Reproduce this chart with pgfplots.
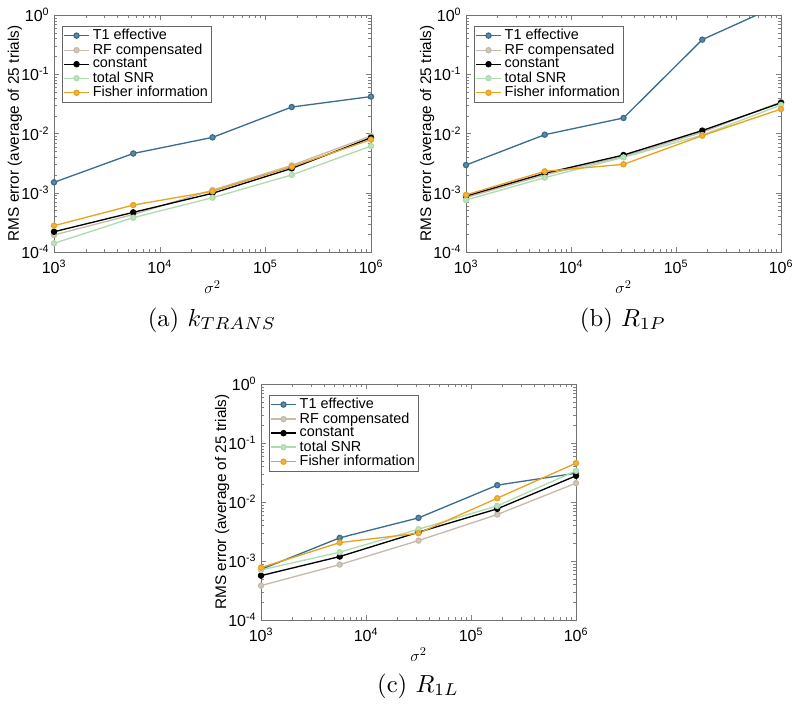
\documentclass[border=0pt]{standalone}
\usepackage{fontspec}
\usepackage{pgfplots}
\pgfplotsset{compat=1.18}
\newfontfamily\axfont{Liberation Sans}
\definecolor{cT}{HTML}{3A6E8F}
\definecolor{cR}{HTML}{C6BAAB}
\definecolor{cC}{HTML}{000000}
\definecolor{cS}{HTML}{AEDCAE}
\definecolor{cF}{HTML}{EBA21F}
\pgfplotsset{
  every axis plot/.append style={line width=1pt, mark=*, mark size=1.9pt},
  legend image code/.code={\draw[mark repeat=2,mark phase=2,#1] plot coordinates {(0cm,0cm) (0.34cm,0cm) (0.68cm,0cm)};},
}
\begin{document}
\begin{tikzpicture}
\path[use as bounding box] (0,0) rectangle (600pt,-533.25pt);
% (a)
\begin{axis}[at={(40.5pt,-11.25pt)}, anchor=north west, width=237.75pt, height=177.75pt,
    scale only axis,
    xmode=log, ymode=log,
    xmin=1e3, xmax=1e6, ymin=1e-4, ymax=1,
    xtick={1e3,1e4,1e5,1e6},
    xticklabels={10\textsuperscript{3},10\textsuperscript{4},10\textsuperscript{5},10\textsuperscript{6}},
    ytick={1e-4,1e-3,1e-2,1e-1,1},
    yticklabels={10\textsuperscript{-4},10\textsuperscript{-3},10\textsuperscript{-2},10\textsuperscript{-1},10\textsuperscript{0}},
    tick align=inside,
    axis line style={draw=black!55},
    major tick length=4pt, minor tick length=2.2pt,
    tick label style={font=\axfont\fontsize{12}{13}\selectfont},
    xticklabel style={yshift=-2.5pt},
    label style={font=\axfont\fontsize{11.5}{13}\selectfont},
    xlabel={$\sigma^2$},
    ylabel={RMS error (average of 25 trials)},
    xlabel style={font=\axfont\fontsize{13}{14}\selectfont, at={(axis description cs:0.5,-0.148)}, anchor=center},
    ylabel style={at={(axis description cs:-0.123,0.5)}, anchor=center},
    legend cell align=left,
    legend style={at={(0.025,0.955)}, anchor=north west, draw=black!60,
      font=\axfont\fontsize{10.8}{10.8}\selectfont, inner sep=0.6pt, row sep=-2.4pt}]
\addplot[color=cT, mark options={fill=cT!80}] coordinates {(1000,1.5e-3) (5623,4.6e-3) (31623,8.6e-3) (177828,2.8e-2) (1e6,4.2e-2)};
\addplot[color=cR, mark options={fill=cR!80}] coordinates {(1000,1.94e-4) (5623,4.3e-4) (31623,1.11e-3) (177828,2.9e-3) (1e6,9.1e-3)};
\addplot[color=cC, mark options={fill=cC}] coordinates {(1000,2.2e-4) (5623,4.67e-4) (31623,9.8e-4) (177828,2.58e-3) (1e6,8.5e-3)};
\addplot[color=cS, mark options={fill=cS!80}] coordinates {(1000,1.4e-4) (5623,3.8e-4) (31623,8.26e-4) (177828,2.0e-3) (1e6,6.15e-3)};
\addplot[color=cF, mark options={fill=cF!80}] coordinates {(1000,2.78e-4) (5623,6.2e-4) (31623,1.06e-3) (177828,2.75e-3) (1e6,7.9e-3)};
\legend{T1 effective,RF compensated,constant,total SNR,Fisher information}
\end{axis}
% (b)
\begin{axis}[at={(349.5pt,-11.25pt)}, anchor=north west, width=236.25pt, height=177.75pt,
    scale only axis,
    xmode=log, ymode=log,
    xmin=1e3, xmax=1e6, ymin=1e-4, ymax=1,
    xtick={1e3,1e4,1e5,1e6},
    xticklabels={10\textsuperscript{3},10\textsuperscript{4},10\textsuperscript{5},10\textsuperscript{6}},
    ytick={1e-4,1e-3,1e-2,1e-1,1},
    yticklabels={10\textsuperscript{-4},10\textsuperscript{-3},10\textsuperscript{-2},10\textsuperscript{-1},10\textsuperscript{0}},
    tick align=inside,
    axis line style={draw=black!55},
    major tick length=4pt, minor tick length=2.2pt,
    tick label style={font=\axfont\fontsize{12}{13}\selectfont},
    xticklabel style={yshift=-2.5pt},
    label style={font=\axfont\fontsize{11.5}{13}\selectfont},
    xlabel={$\sigma^2$},
    ylabel={RMS error (average of 25 trials)},
    xlabel style={font=\axfont\fontsize{13}{14}\selectfont, at={(axis description cs:0.5,-0.148)}, anchor=center},
    ylabel style={at={(axis description cs:-0.123,0.5)}, anchor=center},
    legend cell align=left,
    legend style={at={(0.025,0.955)}, anchor=north west, draw=black!60,
      font=\axfont\fontsize{10.8}{10.8}\selectfont, inner sep=0.6pt, row sep=-2.4pt}]
\addplot[color=cT, mark options={fill=cT!80}] coordinates {(1000,2.94e-3) (5623,9.55e-3) (31623,1.83e-2) (177828,0.384) (1e6,1.53)};
\addplot[color=cR, mark options={fill=cR!80}] coordinates {(1000,8.3e-4) (5623,2.0e-3) (31623,4.1e-3) (177828,1.05e-2) (1e6,3.4e-2)};
\addplot[color=cC, mark options={fill=cC}] coordinates {(1000,8.8e-4) (5623,2.13e-3) (31623,4.33e-3) (177828,1.12e-2) (1e6,3.3e-2)};
\addplot[color=cS, mark options={fill=cS!80}] coordinates {(1000,7.55e-4) (5623,1.8e-3) (31623,3.96e-3) (177828,9.4e-3) (1e6,3.03e-2)};
\addplot[color=cF, mark options={fill=cF!80}] coordinates {(1000,9.2e-4) (5623,2.3e-3) (31623,3.02e-3) (177828,9.2e-3) (1e6,2.59e-2)};
\legend{T1 effective,RF compensated,constant,total SNR,Fisher information}
\end{axis}
% (c)
\begin{axis}[at={(195.75pt,-288pt)}, anchor=north west, width=236.25pt, height=177pt,
    scale only axis,
    xmode=log, ymode=log,
    xmin=1e3, xmax=1e6, ymin=1e-4, ymax=1,
    xtick={1e3,1e4,1e5,1e6},
    xticklabels={10\textsuperscript{3},10\textsuperscript{4},10\textsuperscript{5},10\textsuperscript{6}},
    ytick={1e-4,1e-3,1e-2,1e-1,1},
    yticklabels={10\textsuperscript{-4},10\textsuperscript{-3},10\textsuperscript{-2},10\textsuperscript{-1},10\textsuperscript{0}},
    tick align=inside,
    axis line style={draw=black!55},
    major tick length=4pt, minor tick length=2.2pt,
    tick label style={font=\axfont\fontsize{12}{13}\selectfont},
    xticklabel style={yshift=-2.5pt},
    label style={font=\axfont\fontsize{11.5}{13}\selectfont},
    xlabel={$\sigma^2$},
    ylabel={RMS error (average of 25 trials)},
    xlabel style={font=\axfont\fontsize{13}{14}\selectfont, at={(axis description cs:0.5,-0.148)}, anchor=center},
    ylabel style={at={(axis description cs:-0.123,0.5)}, anchor=center},
    legend cell align=left,
    legend style={at={(0.025,0.955)}, anchor=north west, draw=black!60,
      font=\axfont\fontsize{10.8}{10.8}\selectfont, inner sep=0.6pt, row sep=-2.4pt}]
\addplot[color=cT, mark options={fill=cT!80}] coordinates {(1000,7.2e-4) (5623,2.47e-3) (31623,5.38e-3) (177828,1.93e-2) (1e6,3.08e-2)};
\addplot[color=cR, mark options={fill=cR!80}] coordinates {(1000,3.83e-4) (5623,8.7e-4) (31623,2.22e-3) (177828,6.14e-3) (1e6,2.09e-2)};
\addplot[color=cC, mark options={fill=cC}] coordinates {(1000,5.65e-4) (5623,1.19e-3) (31623,3.08e-3) (177828,7.66e-3) (1e6,2.78e-2)};
\addplot[color=cS, mark options={fill=cS!80}] coordinates {(1000,7.06e-4) (5623,1.41e-3) (31623,3.46e-3) (177828,8.6e-3) (1e6,3.38e-2)};
\addplot[color=cF, mark options={fill=cF!80}] coordinates {(1000,7.73e-4) (5623,2.05e-3) (31623,2.96e-3) (177828,1.16e-2) (1e6,4.56e-2)};
\legend{T1 effective,RF compensated,constant,total SNR,Fisher information}
\end{axis}
\node[font=\fontsize{10}{12}\selectfont, scale=1.85] at (159pt,-240pt) {(a) $k_{TRANS}$};
\node[font=\fontsize{10}{12}\selectfont, scale=1.85] at (467.25pt,-240pt) {(b) $R_{1P}$};
\node[font=\fontsize{10}{12}\selectfont, scale=1.85] at (313.5pt,-514.5pt) {(c) $R_{1L}$};
\end{tikzpicture}
\end{document}
